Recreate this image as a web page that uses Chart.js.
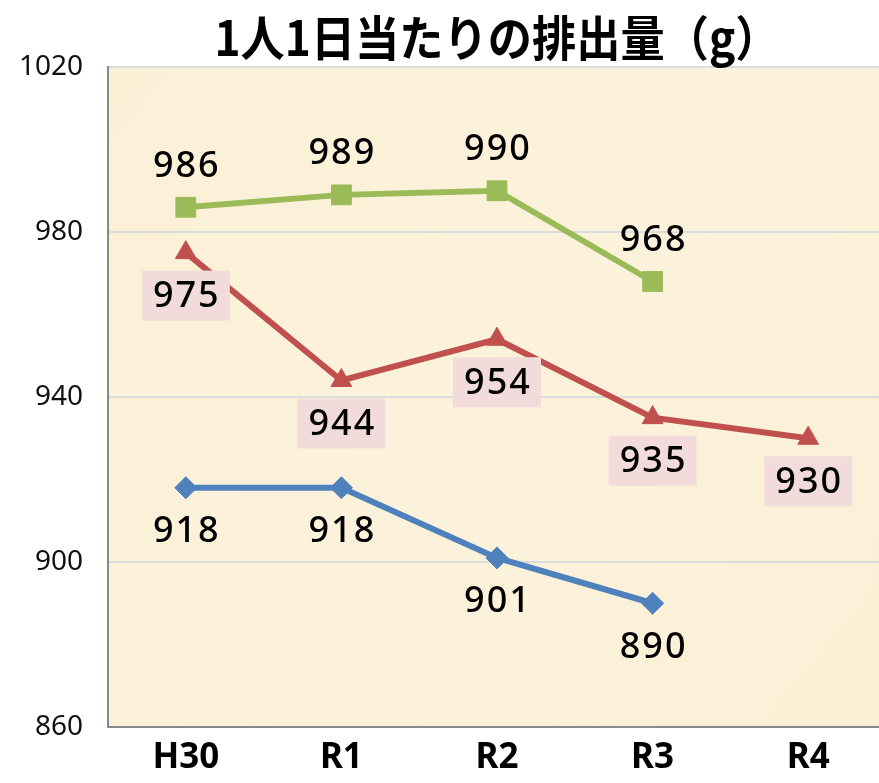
<!DOCTYPE html>
<html lang="ja">
<head>
<meta charset="utf-8">
<script src="https://cdn.jsdelivr.net/npm/chart.js@4"></script>
<style>
  html, body { margin: 0; padding: 0; background: #fff; overflow: hidden; }
  canvas { display: block; }
</style>
</head>
<body>
<canvas id="c" width="886" height="783"></canvas>
<script>
// 1人1日当たりの排出量(g)
const YEARS = ['H30', 'R1', 'R2', 'R3', 'R4'];
const SERIES_GREEN = [986, 989, 990, 968, null];
const SERIES_RED = [975, 944, 954, 935, 930];
const SERIES_BLUE = [918, 918, 901, 890, null];
const Y_MIN = 860, Y_MAX = 1020, Y_STEP = 40;
const TITLE = '1人1日当たりの排出量（g）';

const green = '#9bbb59';
const red = '#c0504d';
const blue = '#4f81bd';

// 背景（羊皮紙風）とタイトル
const paperBg = {
  id: 'paperBg',
  beforeDraw(chart) {
    const { ctx, chartArea: a } = chart;
    ctx.save();
    const g = ctx.createLinearGradient(a.left, a.top, a.right, a.bottom);
    g.addColorStop(0, '#fbf0d6');
    g.addColorStop(0.5, '#fcf2dc');
    g.addColorStop(1, '#fbefd5');
    ctx.fillStyle = g;
    ctx.fillRect(a.left, a.top, a.right - a.left, a.bottom - a.top);
    ctx.restore();
  },
  afterDraw(chart) {
    const { ctx, chartArea: a } = chart;
    ctx.save();
    ctx.font = 'bold 48px "Noto Sans CJK JP"';
    ctx.fillStyle = '#000';
    ctx.textAlign = 'center';
    ctx.textBaseline = 'middle';
    const w = ctx.measureText(TITLE).width;
    ctx.translate((a.left + a.right) / 2, 38);
    ctx.scale(565 / w, 1);
    ctx.fillText(TITLE, 0, 0);
    ctx.restore();
  }
};

// データラベル
const valueLabels = {
  id: 'valueLabels',
  afterDatasetsDraw(chart) {
    const ctx = chart.ctx;
    ctx.save();
    ctx.font = '500 36px "Noto Sans"';
    ctx.letterSpacing = '2px';
    ctx.textAlign = 'center';
    ctx.textBaseline = 'middle';
    chart.data.datasets.forEach((ds, di) => {
      const meta = chart.getDatasetMeta(di);
      ds.data.forEach((v, i) => {
        if (v === null) return;
        const p = meta.data[i];
        const y = ds.labelPos === 'above' ? p.y - 42 : p.y + 43;
        if (ds.labelBox) {
          ctx.fillStyle = ds.labelBox;
          ctx.fillRect(p.x - 44, y - 25, 88, 50);
        }
        ctx.fillStyle = '#000';
        ctx.fillText(String(v), p.x + 1, y + 1);
      });
    });
    ctx.restore();
  }
};

new Chart(document.getElementById('c'), {
  type: 'line',
  data: {
    labels: YEARS,
    datasets: [
      {
        data: SERIES_BLUE, borderColor: blue, backgroundColor: blue,
        borderWidth: 6, pointStyle: 'rectRot', pointRadius: 11, pointBorderWidth: 1,
        labelPos: 'below'
      },
      {
        data: SERIES_RED, borderColor: red, backgroundColor: red,
        borderWidth: 6, pointStyle: 'triangle', pointRadius: 12, pointBorderWidth: 1,
        labelPos: 'below', labelBox: '#f2dcdb'
      },
      {
        data: SERIES_GREEN, borderColor: green, backgroundColor: green,
        borderWidth: 6, pointStyle: 'rect', pointRadius: 14, pointBorderWidth: 1,
        labelPos: 'above'
      }
    ]
  },
  options: {
    responsive: false,
    animation: false,
    layout: { autoPadding: false, padding: { top: 67, left: 0, right: 0, bottom: 0 } },
    plugins: {
      legend: { display: false },
      tooltip: { enabled: false },
      title: { display: false }
    },
    scales: {
      x: {
        offset: true,
        grid: { display: false, drawTicks: false },
        border: { display: true, color: '#898989', width: 2 },
        ticks: { font: { family: 'Noto Sans', size: 35, weight: 'bold' }, color: '#000', padding: 10 },
        afterFit(s) { s.height = 56; s.paddingLeft = 0; s.paddingRight = 0; }
      },
      y: {
        min: Y_MIN, max: Y_MAX,
        grid: { color: '#dcdcdc', lineWidth: 2, drawTicks: false },
        border: { display: true, color: '#898989', width: 2 },
        ticks: {
          stepSize: Y_STEP, font: { family: 'Noto Sans', size: 28 }, color: '#111', padding: 25,
          callback: v => String(v)
        },
        afterFit(s) { s.width = 108; }
      }
    }
  },
  plugins: [paperBg, valueLabels]
});
</script>
</body>
</html>
